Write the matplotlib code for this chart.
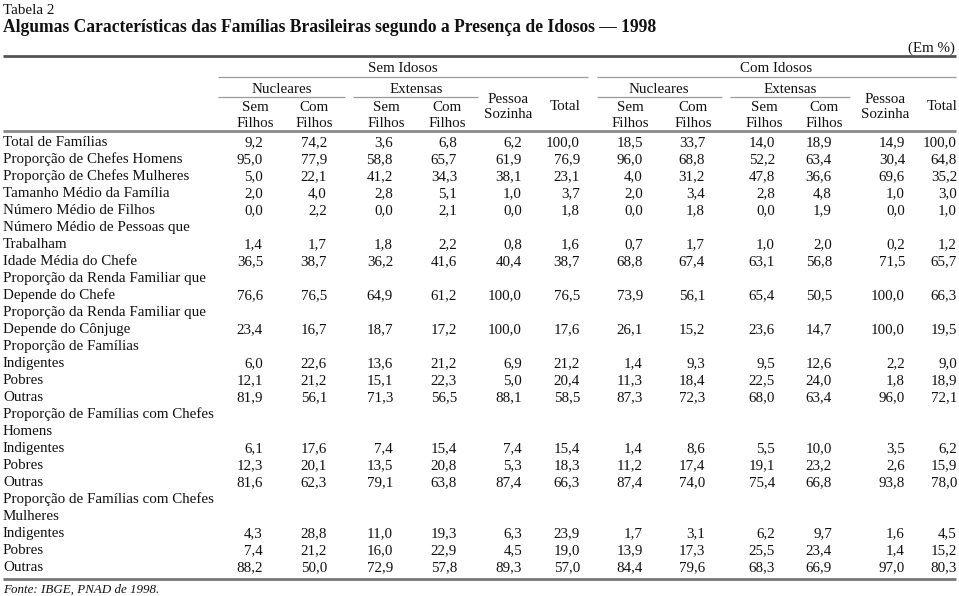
import matplotlib
matplotlib.use("Agg")
import matplotlib.pyplot as plt

plt.rcParams['font.family'] = ['Liberation Serif', 'DejaVu Serif']

# Table content
row_labels = [
    "Total de Famílias",
    "Proporção de Chefes Homens",
    "Proporção de Chefes Mulheres",
    "Tamanho Médio da Família",
    "Número Médio de Filhos",
    "Número Médio de Pessoas que",
    "Trabalham",
    "Idade Média do Chefe",
    "Proporção da Renda Familiar que",
    "Depende do Chefe",
    "Proporção da Renda Familiar que",
    "Depende do Cônjuge",
    "Proporção de Famílias",
    "Indigentes",
    "Pobres",
    "Outras",
    "Proporção de Famílias com Chefes",
    "Homens",
    "Indigentes",
    "Pobres",
    "Outras",
    "Proporção de Famílias com Chefes",
    "Mulheres",
    "Indigentes",
    "Pobres",
    "Outras",
]

total_familias = [9.2, 74.2, 3.6, 6.8, 6.2, 100.0, 18.5, 33.7, 14.0, 18.9, 14.9, 100.0]
chefes_homens = [95.0, 77.9, 58.8, 65.7, 61.9, 76.9, 96.0, 68.8, 52.2, 63.4, 30.4, 64.8]
chefes_mulheres = [5.0, 22.1, 41.2, 34.3, 38.1, 23.1, 4.0, 31.2, 47.8, 36.6, 69.6, 35.2]
tamanho_medio = [2.0, 4.0, 2.8, 5.1, 1.0, 3.7, 2.0, 3.4, 2.8, 4.8, 1.0, 3.0]
filhos_medio = [0.0, 2.2, 0.0, 2.1, 0.0, 1.8, 0.0, 1.8, 0.0, 1.9, 0.0, 1.0]
trabalham = [1.4, 1.7, 1.8, 2.2, 0.8, 1.6, 0.7, 1.7, 1.0, 2.0, 0.2, 1.2]
idade_chefe = [36.5, 38.7, 36.2, 41.6, 40.4, 38.7, 68.8, 67.4, 63.1, 56.8, 71.5, 65.7]
renda_chefe = [76.6, 76.5, 64.9, 61.2, 100.0, 76.5, 73.9, 56.1, 65.4, 50.5, 100.0, 66.3]
renda_conjuge = [23.4, 16.7, 18.7, 17.2, 100.0, 17.6, 26.1, 15.2, 23.6, 14.7, 100.0, 19.5]
fam_indigentes = [6.0, 22.6, 13.6, 21.2, 6.9, 21.2, 1.4, 9.3, 9.5, 12.6, 2.2, 9.0]
fam_pobres = [12.1, 21.2, 15.1, 22.3, 5.0, 20.4, 11.3, 18.4, 22.5, 24.0, 1.8, 18.9]
fam_outras = [81.9, 56.1, 71.3, 56.5, 88.1, 58.5, 87.3, 72.3, 68.0, 63.4, 96.0, 72.1]
hom_indigentes = [6.1, 17.6, 7.4, 15.4, 7.4, 15.4, 1.4, 8.6, 5.5, 10.0, 3.5, 6.2]
hom_pobres = [12.3, 20.1, 13.5, 20.8, 5.3, 18.3, 11.2, 17.4, 19.1, 23.2, 2.6, 15.9]
hom_outras = [81.6, 62.3, 79.1, 63.8, 87.4, 66.3, 87.4, 74.0, 75.4, 66.8, 93.8, 78.0]
mul_indigentes = [4.3, 28.8, 11.0, 19.3, 6.3, 23.9, 1.7, 3.1, 6.2, 9.7, 1.6, 4.5]
mul_pobres = [7.4, 21.2, 16.0, 22.9, 4.5, 19.0, 13.9, 17.3, 25.5, 23.4, 1.4, 15.2]
mul_outras = [88.2, 50.0, 72.9, 57.8, 89.3, 57.0, 84.4, 79.6, 68.3, 66.9, 97.0, 80.3]

# one entry per printed line (None = label only)
row_values = [
    total_familias, chefes_homens, chefes_mulheres, tamanho_medio, filhos_medio,
    None, trabalham, idade_chefe,
    None, renda_chefe, None, renda_conjuge,
    None, fam_indigentes, fam_pobres, fam_outras,
    None, None, hom_indigentes, hom_pobres, hom_outras,
    None, None, mul_indigentes, mul_pobres, mul_outras,
]

# layout (pixels)
col_right = [263, 327, 393, 457, 522, 580, 643, 705, 775, 832, 905, 957]
TXT = '#111111'
FS = 10.8

fig = plt.figure(figsize=(9.59, 5.96), dpi=100)
ax = fig.add_axes([0, 0, 1, 1])
ax.set_xlim(0, 959)
ax.set_ylim(596, 0)
ax.axis('off')

def txt(x, y, s, ha='left', **kw):
    kw.setdefault('fontsize', FS)
    kw.setdefault('color', TXT)
    ax.text(x, y, s, ha=ha, va='center_baseline', **kw)

def rule(x0, x1, y, lw=0.9, color='#9a9a9a'):
    ax.plot([x0, x1], [y, y], color=color, lw=lw, solid_capstyle='butt')

txt(3, 9, "Tabela 2", fontsize=10.8)
txt(3, 25, "Algumas Características das Famílias Brasileiras segundo a Presença de Idosos \u2014 1998",
    fontsize=12.65, fontweight='bold')
txt(955, 47, "(Em %)", ha='right', fontsize=10.8)

rule(3, 956, 56, lw=2.0, color='#555555')

# header
txt(403, 67, "Sem Idosos", ha='center')
txt(776, 67, "Com Idosos", ha='center')
rule(218, 588, 77)
rule(597, 956, 77)

txt(282, 88, "Nucleares", ha='center')
txt(416, 88, "Extensas", ha='center')
txt(659, 88, "Nucleares", ha='center')
txt(790, 88, "Extensas", ha='center')
rule(218, 345, 97)
rule(353, 478, 97)
rule(597, 722, 97)
rule(730, 850, 97)

sub_centers = [255, 314, 386, 447, 630, 693, 764, 824]
for i, cx in enumerate(sub_centers):
    txt(cx, 106, "Sem" if i % 2 == 0 else "Com", ha='center')
    txt(cx, 122, "Filhos", ha='center')
for cx in [508, 885]:
    txt(cx, 98, "Pessoa", ha='center')
    txt(cx, 113, "Sozinha", ha='center')
for cx in [565, 942]:
    txt(cx, 105, "Total", ha='center')

rule(3, 956, 131, lw=2.0, color='#8a8a8a')

# body
y0, dy = 141, 17.0
for i, (lab, vals) in enumerate(zip(row_labels, row_values)):
    y = y0 + i * dy
    txt(3, y, lab)
    if vals is None:
        continue
    for xr, v in zip(col_right, vals):
        txt(xr, y, f"{v:.1f}".replace('.', ','), ha='right')

rule(3, 956, 579, lw=2.0, color='#777777')
txt(3, 588.5, "Fonte: IBGE, PNAD de 1998.", fontsize=9.4, style='italic')

fig.savefig("out.png", dpi=100)
